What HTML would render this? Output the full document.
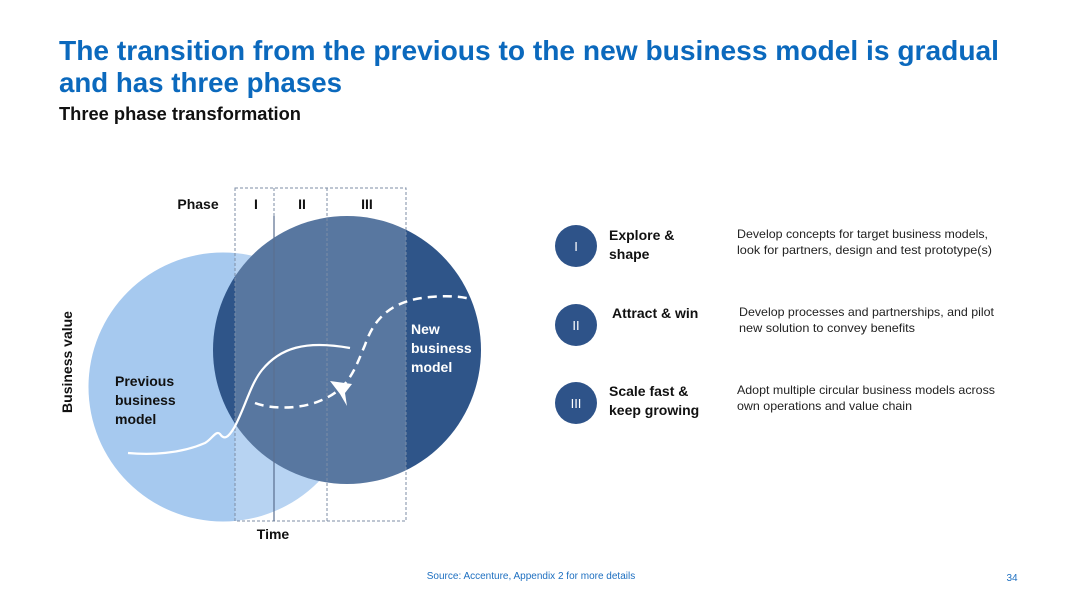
<!DOCTYPE html>
<html><head><meta charset="utf-8"><style>
html,body{margin:0;padding:0;background:#fff;}
svg{display:block;font-family:"Liberation Sans",sans-serif;}
</style></head><body>
<svg width="1080" height="607" viewBox="0 0 1080 607">
<text x="59" y="60" font-size="28" font-weight="bold" fill="#0b69bd" textLength="940" lengthAdjust="spacingAndGlyphs">The transition from the previous to the new business model is gradual</text>
<text x="59" y="92" font-size="28" font-weight="bold" fill="#0b69bd" textLength="283" lengthAdjust="spacingAndGlyphs">and has three phases</text>
<text x="59" y="120" font-size="18" font-weight="bold" fill="#111" textLength="242" lengthAdjust="spacingAndGlyphs">Three phase transformation</text>

<g>
<circle cx="223" cy="387" r="134.5" fill="#a6c9ef"/>
<circle cx="347" cy="350" r="134" fill="#2f5589"/>
<rect x="235" y="188" width="171" height="333" fill="#ffffff" fill-opacity="0.2"/>
<rect x="235" y="188" width="171" height="333" fill="none" stroke="#7d8ea6" stroke-width="1" stroke-dasharray="3,2"/>
<line x1="274" y1="188" x2="274" y2="521" stroke="#7d8ea6" stroke-dasharray="3,2"/>
<line x1="274" y1="216" x2="274" y2="521" stroke="#5a6f8f" stroke-width="1.2"/>
<line x1="327" y1="188" x2="327" y2="521" stroke="#7d8ea6" stroke-dasharray="3,2"/>
<text x="198" y="209" font-size="14" font-weight="bold" fill="#111" text-anchor="middle">Phase</text>
<text x="256" y="209" font-size="14" font-weight="bold" fill="#111" text-anchor="middle">I</text>
<text x="302" y="209" font-size="14" font-weight="bold" fill="#111" text-anchor="middle">II</text>
<text x="367" y="209" font-size="14" font-weight="bold" fill="#111" text-anchor="middle">III</text>
<text x="273" y="539" font-size="14" font-weight="bold" fill="#111" text-anchor="middle">Time</text>
<text transform="translate(72,362) rotate(-90)" font-size="14" font-weight="bold" fill="#111" text-anchor="middle">Business value</text>
<path d="M128,453 C150,455 180,454 205,443 C212,439 216,430 220,434 C224,440 228,438 234,428 C245,408 250,385 262,370 C280,348 305,340 350,348" fill="none" stroke="#fff" stroke-width="2.2"/>
<path d="M255,403 C270,409 300,410 322,400 C350,388 355,368 365,345 C375,315 395,300 430,297 C450,295 465,297 474,300" fill="none" stroke="#fff" stroke-width="2.5" stroke-dasharray="9,6"/>
<path d="M330,381 L352,384 L345,393 L347,406 L340,394 Z" fill="#fff"/>
<text font-size="14" font-weight="bold" fill="#111"><tspan x="115" y="386">Previous</tspan><tspan x="115" y="405">business</tspan><tspan x="115" y="424">model</tspan></text>
<text font-size="14" font-weight="bold" fill="#fff"><tspan x="411" y="334">New</tspan><tspan x="411" y="353">business</tspan><tspan x="411" y="372">model</tspan></text>
</g>

<g>
<circle cx="576" cy="246" r="21" fill="#2e5389"/>
<text x="576" y="251" font-size="13" fill="#fff" text-anchor="middle">I</text>
<circle cx="576" cy="325" r="21" fill="#2e5389"/>
<text x="576" y="330" font-size="13" fill="#fff" text-anchor="middle">II</text>
<circle cx="576" cy="403" r="21" fill="#2e5389"/>
<text x="576" y="408" font-size="13" fill="#fff" text-anchor="middle">III</text>
<text font-size="14" font-weight="bold" fill="#111"><tspan x="609" y="240">Explore &amp;</tspan><tspan x="609" y="259">shape</tspan></text>
<text x="612" y="318" font-size="14" font-weight="bold" fill="#111">Attract &amp; win</text>
<text font-size="14" font-weight="bold" fill="#111"><tspan x="609" y="396">Scale fast &amp;</tspan><tspan x="609" y="415">keep growing</tspan></text>
<text font-size="12" fill="#222"><tspan x="737" y="238" textLength="251" lengthAdjust="spacingAndGlyphs">Develop concepts for target business models,</tspan><tspan x="737" y="254" textLength="255" lengthAdjust="spacingAndGlyphs">look for partners, design and test prototype(s)</tspan></text>
<text font-size="12" fill="#222"><tspan x="739" y="316" textLength="255" lengthAdjust="spacingAndGlyphs">Develop processes and partnerships, and pilot</tspan><tspan x="739" y="332" textLength="176" lengthAdjust="spacingAndGlyphs">new solution to convey benefits</tspan></text>
<text font-size="12" fill="#222"><tspan x="737" y="394" textLength="258" lengthAdjust="spacingAndGlyphs">Adopt multiple circular business models across</tspan><tspan x="737" y="410" textLength="175" lengthAdjust="spacingAndGlyphs">own operations and value chain</tspan></text>
</g>

<text x="531" y="579" font-size="10" fill="#1d6fc0" text-anchor="middle">Source: Accenture, Appendix 2 for more details</text>
<text x="1012" y="581" font-size="10" fill="#1d6fc0" text-anchor="middle">34</text>
</svg>
</body></html>
